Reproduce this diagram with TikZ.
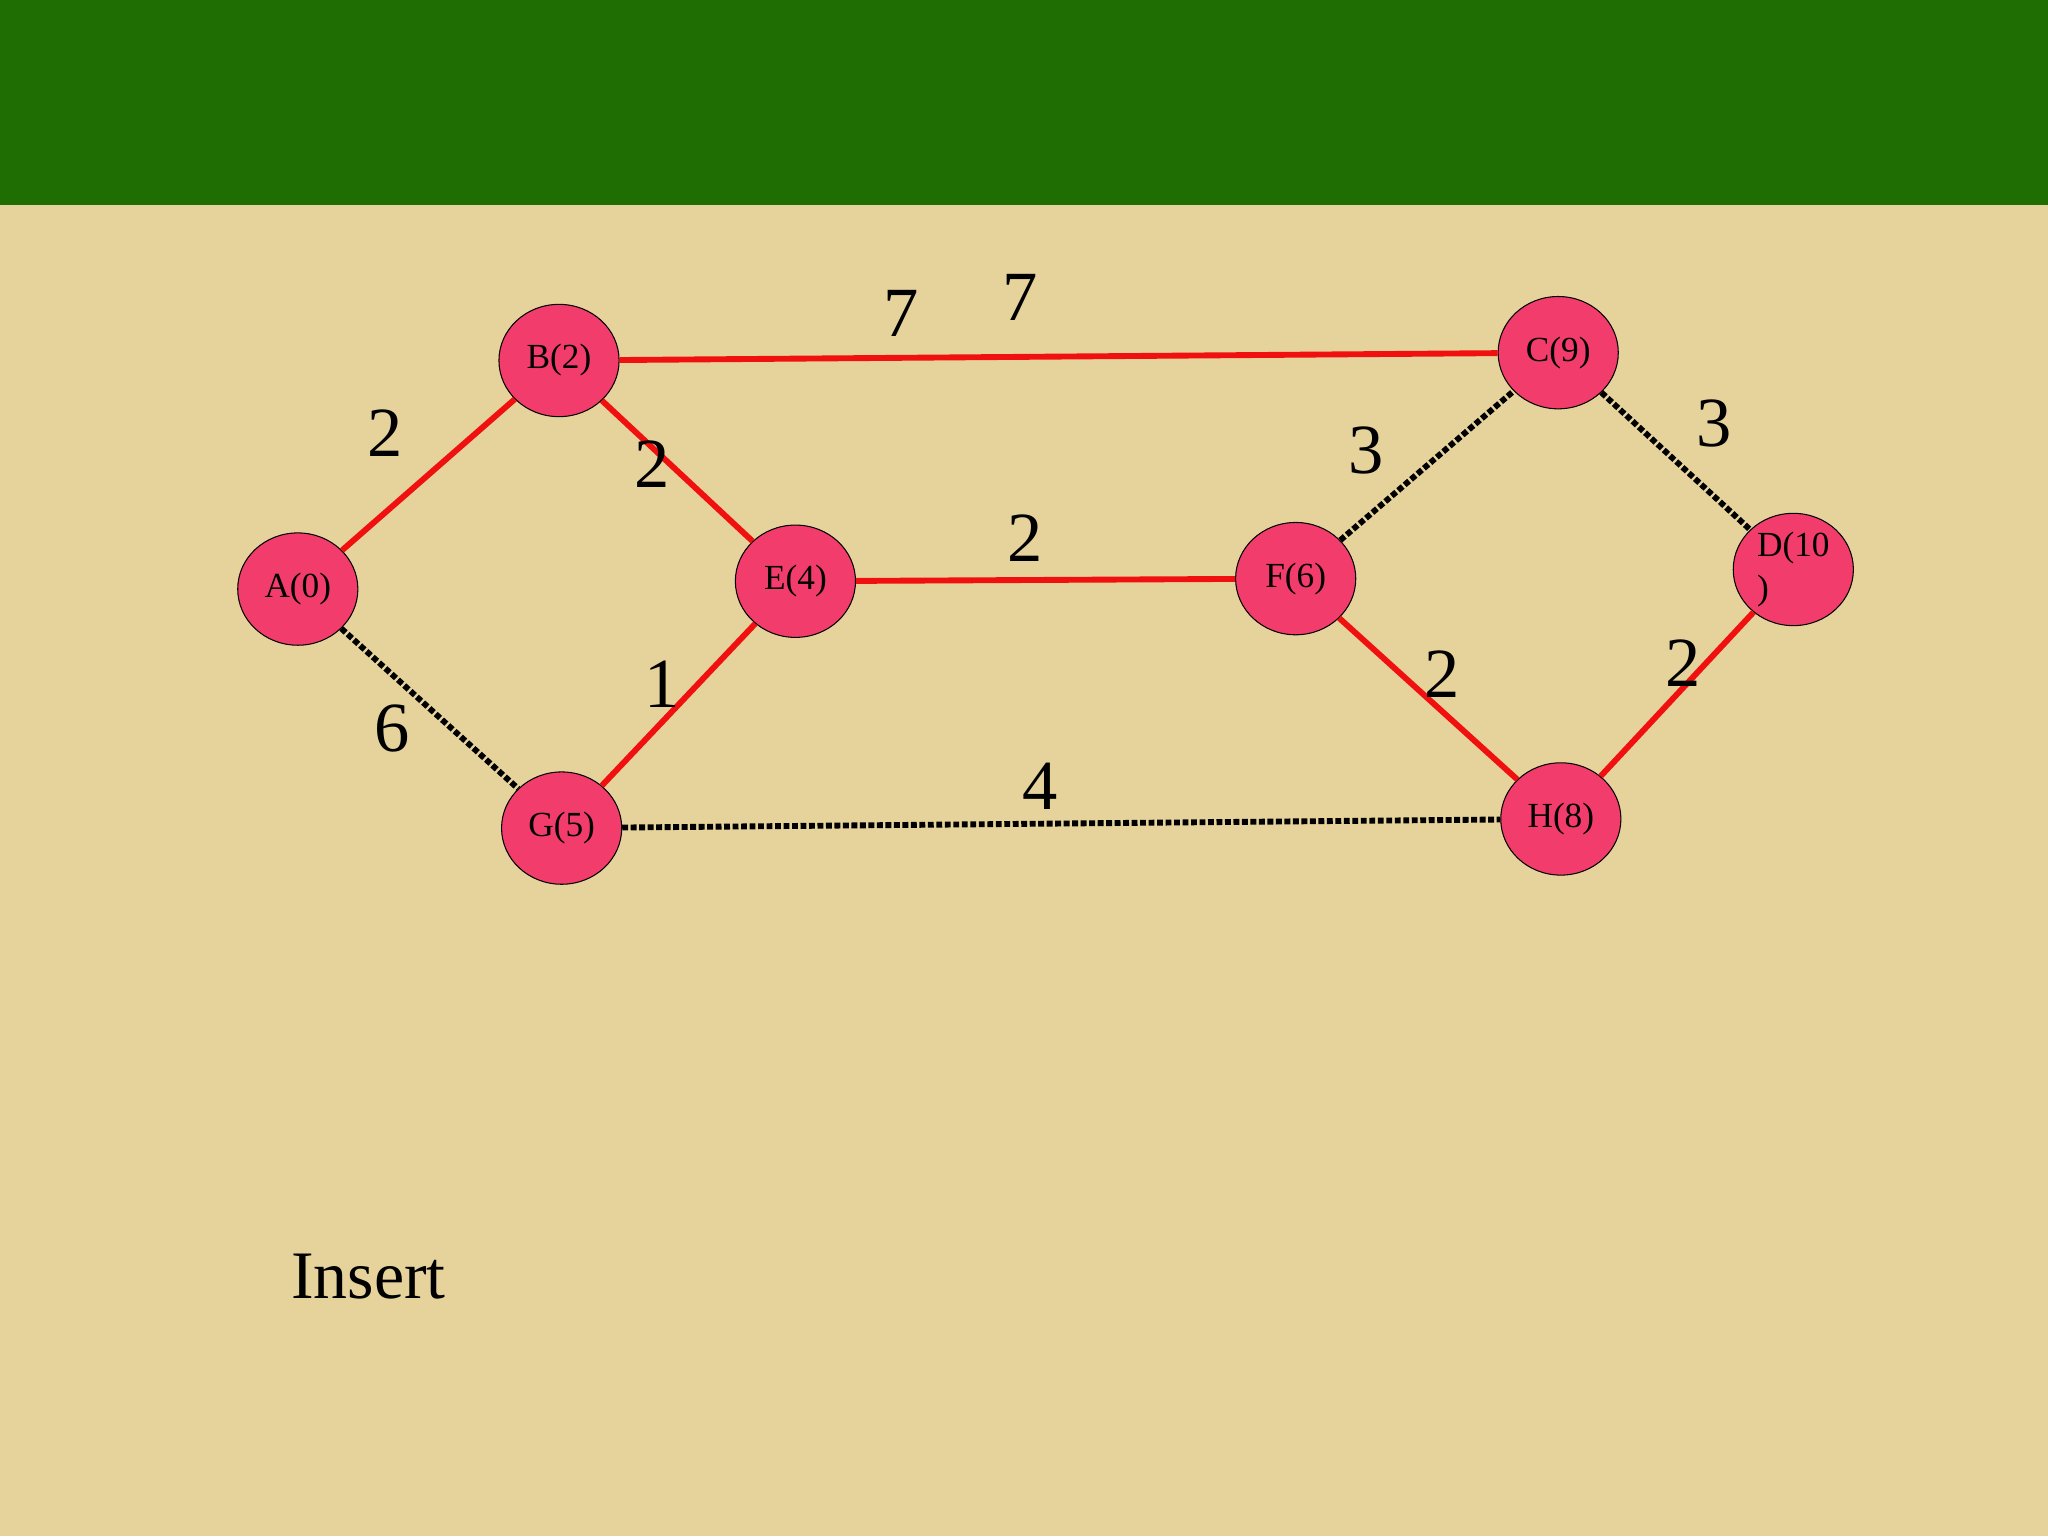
\documentclass[tikz,border=0pt]{standalone}
\usepackage{fontspec}
\setmainfont{Liberation Serif}
\usetikzlibrary{shapes.geometric}
\definecolor{bg}{HTML}{E6D39C}
\definecolor{band}{HTML}{1E6E04}
\definecolor{nodefill}{HTML}{F23D6C}
\definecolor{edgered}{HTML}{F01010}
\tikzset{
 vtx/.style={ellipse,draw=black,line width=0.8pt,fill=nodefill,minimum width=92pt,minimum height=86pt,inner sep=0pt,font=\fontsize{27}{33}\selectfont},
 redge/.style={draw=edgered,line width=4.5pt},
 dedge/.style={draw=black,line width=4.5pt,dotted},
 wlab/.style={font=\fontsize{54}{60}\selectfont}
}
\begin{document}
\begin{tikzpicture}[x=1pt,y=-1pt]
\fill[bg] (0,0) rectangle (1568,1176);
\fill[band] (0,0) rectangle (1568,157);
\node[vtx] (A) at (228,451) {A(0)};
\node[vtx] (B) at (428,276) {B(2)};
\node[vtx] (E) at (609,445) {E(4)};
\node[vtx] (G) at (430,634) {G(5)};
\node[vtx] (F) at (992,443) {F(6)};
\node[vtx] (C) at (1193,270) {C(9)};
\node[vtx,align=left] (D) at (1373,436) {D(10\\)};
\node[vtx] (H) at (1195,627) {H(8)};
\begin{scope}[on background layer/.style={}]
\draw[redge] (A) -- (B);
\draw[redge] (B) -- (E);
\draw[redge] (B) -- (C);
\draw[redge] (E) -- (F);
\draw[redge] (G) -- (E);
\draw[redge] (F) -- (H);
\draw[redge] (H) -- (D);
\draw[dedge] (A) -- (G);
\draw[dedge] (G) -- (H);
\draw[dedge] (F) -- (C);
\draw[dedge] (C) -- (D);
\end{scope}
\node[wlab] (l1) at (295,332) {2};
\node[wlab] (l2) at (499,355) {2};
\node[wlab] (l3) at (690,240) {7};
\node[wlab] (l4) at (781,228) {7};
\node[wlab] (l5) at (785,412) {2};
\node[wlab] (l6) at (507,524) {1};
\node[wlab] (l7) at (300,558) {6};
\node[wlab] (l8) at (796,602) {4};
\node[wlab] (l9) at (1046,345) {3};
\node[wlab] (l10) at (1312,324) {3};
\node[wlab] (l11) at (1104,516) {2};
\node[wlab] (l12) at (1289,508) {2};
\node[font=\fontsize{52}{60}\selectfont] (ins) at (282,977) {Insert};
\end{tikzpicture}
\end{document}
